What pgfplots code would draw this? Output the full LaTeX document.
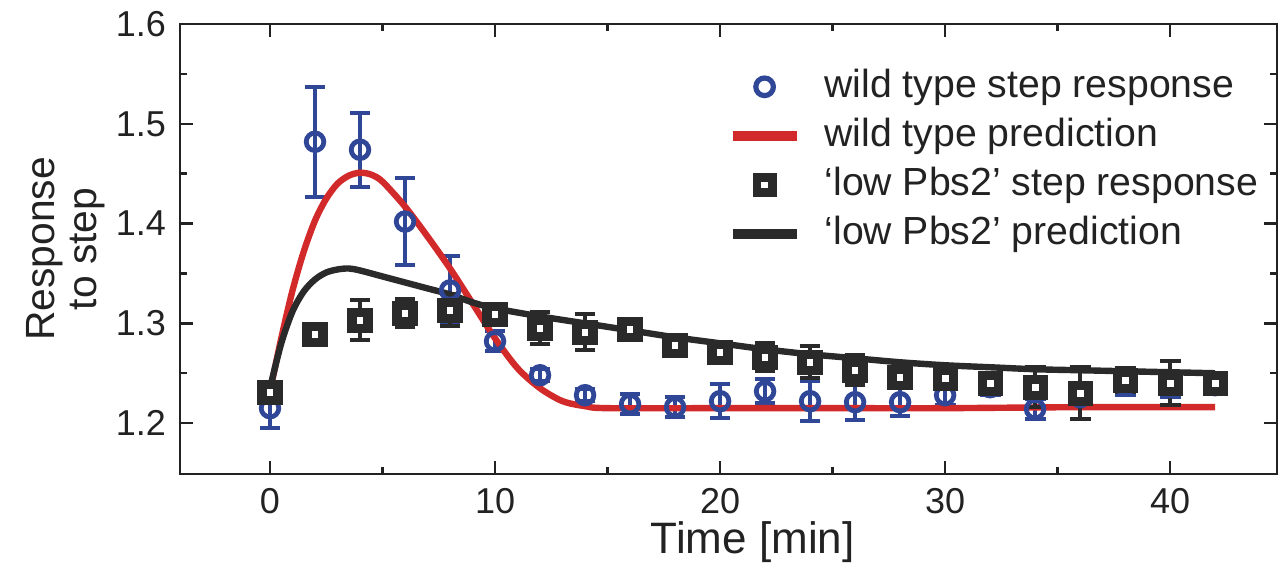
\documentclass[border=0pt]{standalone}
\usepackage{fontspec}
\setmainfont{Liberation Sans}
\usepackage{pgfplots}
\pgfplotsset{compat=1.18}

\definecolor{wtblue}{HTML}{2F4796}
\definecolor{wtred}{HTML}{D22A2A}
\definecolor{lowgray}{HTML}{2A2A2A}
\definecolor{txt}{HTML}{222222}

% wild type step response: time, mean, error
\pgfplotstableread{
t    y      e
0    1.215  0.020
2    1.482  0.055
4    1.474  0.037
6    1.402  0.044
8    1.333  0.034
10   1.282  0.010
12   1.248  0.006
14   1.228  0.006
16   1.219  0.010
18   1.216  0.010
20   1.222  0.017
22   1.232  0.012
24   1.222  0.020
26   1.221  0.018
28   1.221  0.014
30   1.228  0.010
32   1.236  0.008
34   1.214  0.010
36   1.226  0.010
38   1.238  0.010
40   1.236  0.010
42   1.238  0.008
}\wtdata

% 'low Pbs2' step response
\pgfplotstableread{
t    y      e
0    1.231  0.008
2    1.289  0.000
4    1.303  0.020
6    1.310  0.014
8    1.313  0.016
10   1.309  0.010
12   1.295  0.016
14   1.291  0.018
16   1.294  0.006
18   1.278  0.000
20   1.271  0.010
22   1.266  0.014
24   1.261  0.016
26   1.253  0.015
28   1.246  0.010
30   1.245  0.008
32   1.240  0.006
34   1.236  0.020
36   1.230  0.026
38   1.243  0.012
40   1.240  0.022
42   1.240  0.010
}\lowdata

\begin{document}
\begin{tikzpicture}
\useasboundingbox (-45pt,-23.5pt) rectangle (275pt,118.5pt);
\begin{axis}[
  at={(0,0)}, anchor=south west,
  scale only axis,
  width=274.25pt, height=112.5pt,
  xmin=-4, xmax=44.75,
  ymin=1.149, ymax=1.6,
  xtick={0,10,20,30,40},
  ytick={1.2,1.3,1.4,1.5,1.6},
  minor tick num=1,
  tick align=inside,
  xtick pos=both, ytick pos=both,
  xticklabel pos=lower, yticklabel pos=left,
  major tick length=3.2pt, minor tick length=1.7pt,
  tick style={line width=0.6pt, color=txt},
  axis line style={line width=0.7pt, color=txt},
  yticklabel style={/pgf/number format/.cd, fixed, precision=1, fixed zerofill},
  /pgf/number format/assume math mode=true,
  ticklabel style={font=\fontsize{9}{10}\selectfont, color=txt},
  xlabel={Time [min]},
  xlabel style={font=\fontsize{11}{12}\selectfont, color=txt, inner sep=0pt,
    at={(axis description cs:0.522,-0.105)}, anchor=north},
  ylabel={Response\\to step},
  ylabel style={font=\fontsize{10.2}{10.5}\selectfont, color=txt, align=center,
    inner sep=0pt, at={(axis description cs:-0.068,0.5)}, anchor=south},
  legend cell align=left,
  legend image code/.code={\draw[mark repeat=2,mark phase=2]
    plot coordinates {(0pt,0pt) (8pt,0pt) (16pt,0pt)};},
  legend style={at={(1,1)}, anchor=north east, xshift=-4.5pt, yshift=-10.8pt,
    draw=none, fill=none, inner sep=0pt, column sep=5.75pt, row sep=2.85pt,
    font=\fontsize{9.8}{11}\selectfont, text=txt,
    nodes={inner sep=0pt, text height=7.3pt, text depth=2.1pt}},
]

\addlegendimage{only marks, mark=o, mark size=2.2pt,
  mark options={line width=1.3pt, draw=wtblue, fill=white}}
\addlegendentry{wild type step response}
\addlegendimage{wtred, line width=2.5pt}
\addlegendentry{wild type prediction}
\addlegendimage{only marks, mark=square*, mark size=1.9pt,
  mark options={line width=2.2pt, draw=lowgray, fill=white}}
\addlegendentry{`low Pbs2' step response}
\addlegendimage{lowgray, line width=2.5pt}
\addlegendentry{`low Pbs2' prediction}

% wild type data
\addplot[forget plot, only marks, mark=o, mark size=2.2pt, wtblue,
  mark options={line width=1.2pt, draw=wtblue, fill=white},
  error bars/.cd, y dir=both, y explicit,
  error bar style={line width=1pt, wtblue},
  error mark options={rotate=90, mark size=2.6pt, line width=1pt, wtblue}]
  table[x=t, y=y, y error=e] {\wtdata};

% wild type prediction
\addplot[forget plot, wtred, line width=1.6pt, smooth] coordinates {
  (0,1.232) (0.5,1.285) (1,1.333) (1.5,1.372) (2,1.403) (2.5,1.425)
  (3,1.440) (3.5,1.448) (4,1.451) (4.5,1.449) (5,1.442) (6,1.417)
  (7,1.387) (8,1.355) (9,1.32) (10,1.285) (11,1.255) (12,1.235)
  (13,1.222) (14,1.217) (15,1.215) (20,1.215) (25,1.215) (30,1.215)
  (36,1.216) (42,1.216)
};

% 'low Pbs2' prediction
\addplot[forget plot, lowgray, line width=1.6pt, smooth] coordinates {
  (0,1.235) (0.5,1.280) (1,1.312) (1.5,1.332) (2,1.344) (2.5,1.351)
  (3,1.354) (3.5,1.355) (4,1.353) (5,1.347) (6,1.341) (7,1.335)
  (8,1.329) (9,1.321) (10,1.315) (12,1.307) (14,1.300) (16,1.293)
  (18,1.286) (20,1.280) (22,1.274) (24,1.269) (26,1.265) (28,1.261)
  (30,1.258) (32,1.256) (34,1.254) (36,1.253) (38,1.252) (40,1.251)
  (42,1.250)
};

% 'low Pbs2' data
\addplot[forget plot, only marks, mark=square*, mark size=2pt, lowgray,
  mark options={line width=2.3pt, draw=lowgray, fill=white},
  error bars/.cd, y dir=both, y explicit,
  error bar style={line width=1pt, lowgray},
  error mark options={rotate=90, mark size=2.6pt, line width=1pt, lowgray}]
  table[x=t, y=y, y error=e] {\lowdata};

\end{axis}
\end{tikzpicture}
\end{document}
